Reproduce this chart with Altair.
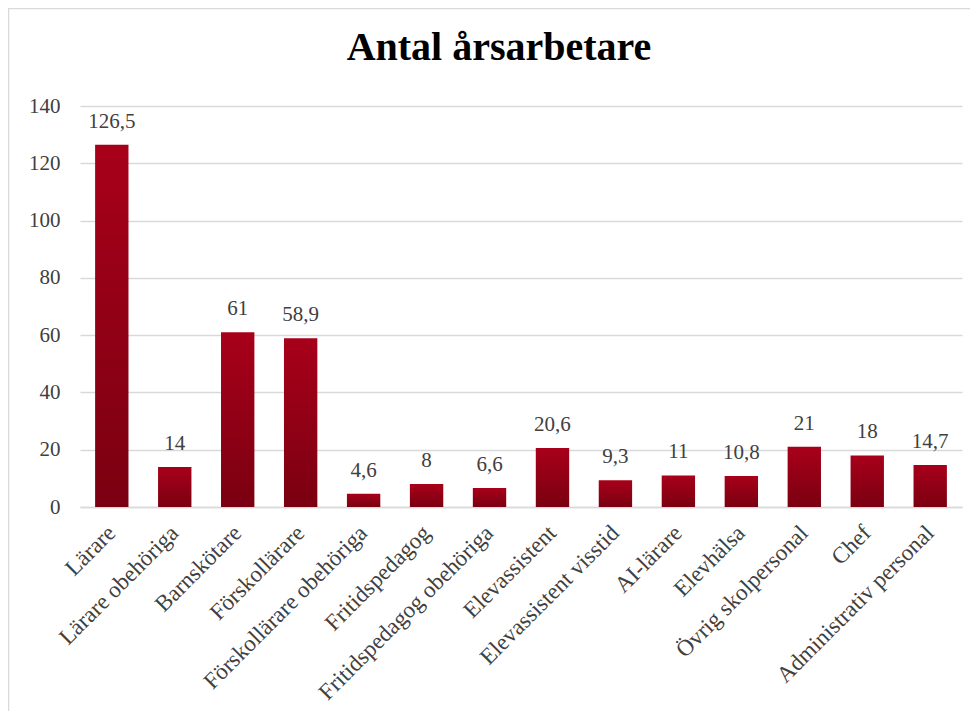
import altair as alt
import pandas as pd

categories = [
    "Lärare", "Lärare obehöriga", "Barnskötare", "Förskollärare",
    "Förskollärare obehöriga", "Fritidspedagog", "Fritidspedagog obehöriga",
    "Elevassistent", "Elevassistent visstid", "AI-lärare", "Elevhälsa",
    "Övrig skolpersonal", "Chef", "Administrativ personal",
]
values = [126.5, 14, 61, 58.9, 4.6, 8, 6.6, 20.6, 9.3, 11, 10.8, 21, 18, 14.7]
y_ticks = [0, 20, 40, 60, 80, 100, 120, 140]

df = pd.DataFrame({"kategori": categories, "antal": values})

FONT = "Liberation Serif"
W, H = 882, 401

x_enc = alt.X("kategori:N", sort=None,
              scale=alt.Scale(paddingInner=0.47, paddingOuter=0.24),
              axis=alt.Axis(title=None, labelAngle=-45, labelAlign="right",
                            labelBaseline="middle", labelPadding=22,
                            labelFontSize=23, labelFont=FONT,
                            labelColor="#404040", labelLimit=400,
                            ticks=False, domain=True, domainColor="#d9d9d9",
                            domainWidth=1.5, grid=False))
y_enc = alt.Y("antal:Q", scale=alt.Scale(domain=[0, 140], nice=False),
              axis=alt.Axis(title=None, values=y_ticks, grid=True,
                            gridColor="#d9d9d9", gridWidth=1.3,
                            domain=False, ticks=False, labelPadding=20,
                            labelFontSize=21, labelFont=FONT,
                            labelColor="#404040"))

gradient = alt.Gradient(
    gradient="linear",
    stops=[alt.GradientStop(color="#a8001a", offset=0),
           alt.GradientStop(color="#7a0011", offset=1)],
    x1=0, x2=0, y1=0, y2=1,
)

bars = alt.Chart(df).mark_bar(color=gradient).encode(x=x_enc, y=y_enc)

labels = alt.Chart(df).transform_calculate(
    lbl="replace(toString(datum.antal), '.', ',')"
).mark_text(font=FONT, fontSize=21, color="#404040",
            baseline="alphabetic", dy=-17).encode(
    x=alt.X("kategori:N", sort=None), y="antal:Q", text="lbl:N")

border = alt.Chart(pd.DataFrame({"d": [0]})).mark_rect(
    fill=None, stroke="#d9d9d9", strokeWidth=1.5
).encode(x=alt.value(-71.5), x2=alt.value(1000),
         y=alt.value(-97.5), y2=alt.value(800))

chart = alt.layer(border, bars, labels).properties(
    width=W, height=H,
    title=alt.TitleParams("Antal årsarbetare", font=FONT, fontSize=40,
                          fontWeight="bold", color="#000000",
                          anchor="middle", baseline="alphabetic",
                          dx=-22, dy=92, offset=0),
    autosize=alt.AutoSizeParams(type="none"),
    padding={"left": 72, "top": 98, "right": 8, "bottom": 204},
).configure_view(stroke=None)

chart.save("out.html", embed_options={"renderer": "svg", "actions": False})
